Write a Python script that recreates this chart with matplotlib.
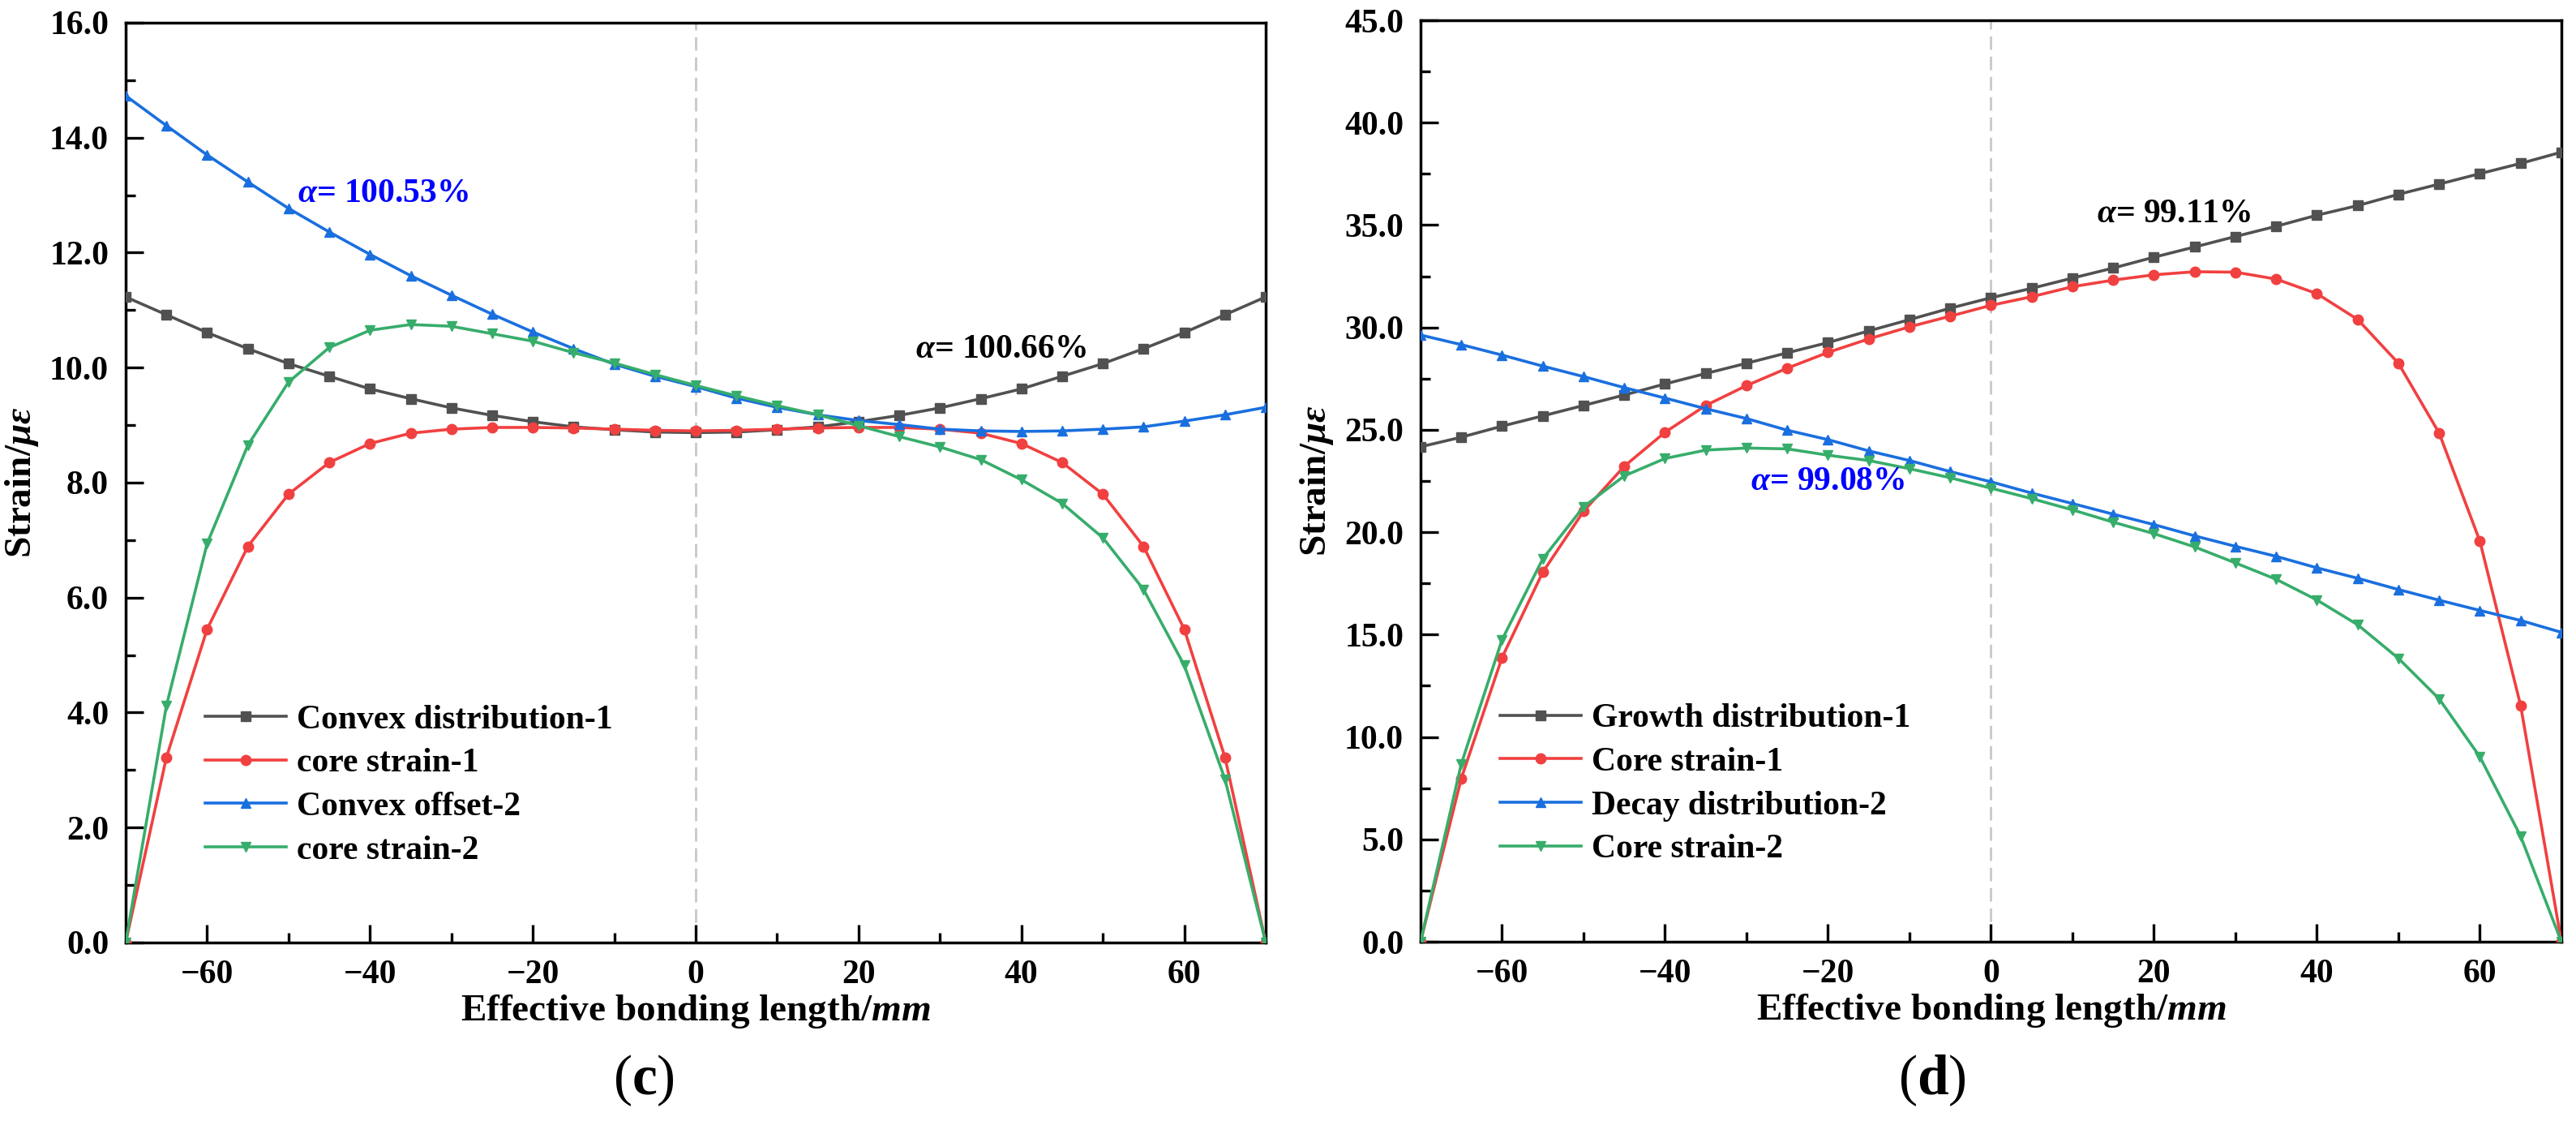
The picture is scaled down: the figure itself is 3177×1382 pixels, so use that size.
import matplotlib
matplotlib.use("Agg")
import matplotlib.pyplot as plt
import numpy as np

# bonding positions, mm
x_pos = list(range(-70, 75, 5))

# panel (c)
c_convex_1 = [11.23, 10.92, 10.61, 10.33, 10.07, 9.85, 9.63, 9.46, 9.30, 9.17, 9.06, 8.97,
              8.92, 8.88, 8.87, 8.88, 8.92, 8.97, 9.06, 9.17, 9.30, 9.46, 9.63, 9.85,
              10.07, 10.33, 10.61, 10.92, 11.23]
c_core_1 = [0.0, 3.22, 5.45, 6.89, 7.80, 8.35, 8.68, 8.86, 8.93, 8.96, 8.96, 8.95,
            8.93, 8.91, 8.90, 8.91, 8.93, 8.95, 8.96, 8.96, 8.93, 8.86, 8.68, 8.35,
            7.80, 6.89, 5.45, 3.22, 0.0]
c_offset_2 = [14.73, 14.21, 13.70, 13.23, 12.77, 12.36, 11.97, 11.60, 11.26, 10.93, 10.62, 10.33,
              10.06, 9.85, 9.67, 9.47, 9.31, 9.18, 9.08, 9.01, 8.93, 8.90, 8.89, 8.90,
              8.93, 8.97, 9.07, 9.18, 9.31]
c_core_2 = [0.0, 4.12, 6.94, 8.65, 9.75, 10.35, 10.65, 10.75, 10.72, 10.59, 10.46, 10.26,
            10.08, 9.88, 9.69, 9.51, 9.34, 9.18, 8.99, 8.80, 8.62, 8.40, 8.05, 7.64,
            7.04, 6.14, 4.82, 2.84, 0.0]

# panel (d)
d_growth_1 = [24.17, 24.64, 25.18, 25.68, 26.19, 26.70, 27.24, 27.75, 28.25, 28.76, 29.26, 29.83,
              30.38, 30.94, 31.45, 31.91, 32.41, 32.90, 33.43, 33.93, 34.44, 34.94, 35.48, 35.95,
              36.50, 37.00, 37.51, 38.01, 38.56]
d_core_1 = [0.0, 7.98, 13.88, 18.05, 21.02, 23.22, 24.88, 26.19, 27.16, 28.01, 28.78, 29.44,
            30.03, 30.55, 31.08, 31.50, 31.99, 32.31, 32.57, 32.72, 32.70, 32.36, 31.65, 30.39,
            28.25, 24.84, 19.56, 11.53, 0.0]
d_decay_2 = [29.63, 29.16, 28.65, 28.11, 27.60, 27.06, 26.55, 26.03, 25.55, 24.98, 24.52, 23.97,
             23.50, 22.96, 22.46, 21.91, 21.40, 20.88, 20.37, 19.82, 19.31, 18.82, 18.26, 17.75,
             17.20, 16.68, 16.18, 15.69, 15.11]
d_core_2 = [0.0, 8.69, 14.75, 18.70, 21.24, 22.75, 23.60, 24.01, 24.11, 24.07, 23.76, 23.50,
            23.10, 22.66, 22.15, 21.64, 21.09, 20.49, 19.93, 19.28, 18.50, 17.70, 16.69, 15.48,
            13.84, 11.86, 9.03, 5.15, 0.0]

labels_c = ["Convex distribution-1", "core strain-1", "Convex offset-2", "core strain-2"]
labels_d = ["Growth distribution-1", "Core strain-1", "Decay distribution-2", "Core strain-2"]

colors = ["#515151", "#F14040", "#1A6FDF", "#37AD6B"]
markers = ["s", "o", "^", "v"]

plt.rcParams["font.family"] = ["Liberation Serif", "DejaVu Serif"]
plt.rcParams["font.weight"] = "bold"
plt.rcParams["mathtext.fontset"] = "custom"
plt.rcParams["mathtext.rm"] = "Liberation Serif:bold"
plt.rcParams["mathtext.it"] = "Liberation Serif:italic:bold"
plt.rcParams["mathtext.bf"] = "Liberation Serif:bold"

fig = plt.figure(figsize=(31.77, 13.82), dpi=100)
ax1 = fig.add_axes([0.04879, 0.15919, 0.44256, 0.82055])
ax2 = fig.add_axes([0.55146, 0.15991, 0.44287, 0.82200])


def draw(ax, series, labels, ymax, ystep, notes):
    ax.axvline(0, color="#c8c8c8", ls=(0, (6, 3)), lw=2, zorder=1)
    for s, lab, c, m in zip(series, labels, colors, markers):
        ax.plot(x_pos, s, color=c, marker=m, ms=9, lw=2.6, label=lab, zorder=3)
    ax.set_xlim(-70, 70)
    ax.set_ylim(0, ymax)
    ax.set_xticks([-60, -40, -20, 0, 20, 40, 60])
    ax.set_xticks([-50, -30, -10, 10, 30, 50], minor=True)
    ax.set_yticks(np.arange(0, ymax + 0.01, ystep))
    ax.set_yticks(np.arange(ystep / 2, ymax, ystep), minor=True)
    ax.set_yticklabels(["%.1f" % v for v in np.arange(0, ymax + 0.01, ystep)])
    ax.tick_params(which="both", direction="in", top=False, right=False,
                   labelsize=30, width=2.4)
    ax.tick_params(which="major", length=16, pad=15)
    ax.tick_params(which="minor", length=8.5)
    for sp in ax.spines.values():
        sp.set_linewidth(2.5)
    ax.set_xlabel("Effective bonding length/$mm$", fontsize=34, fontweight="bold", labelpad=2)
    ax.set_ylabel("Strain/$\\mu\\varepsilon$", fontsize=34, fontweight="bold", labelpad=8)
    ax.legend(loc="center left", bbox_to_anchor=(0.07, 0.171), frameon=False,
              fontsize=30, handlelength=2.4, handletextpad=0.3, labelspacing=0.37,
              borderpad=0, borderaxespad=0, numpoints=1)
    for tx, ty, txt, col in notes:
        ax.text(tx, ty, txt, color=col, fontsize=30, fontweight="bold",
                ha="left", va="center", zorder=5)


draw(ax1, [c_convex_1, c_core_1, c_offset_2, c_core_2], labels_c, 16.0, 2.0,
     [(-48.9, 13.02, "$\\alpha$= 100.53%", "#0000ff"),
      (27.0, 10.31, "$\\alpha$= 100.66%", "#000000")])
draw(ax2, [d_growth_1, d_core_1, d_decay_2, d_core_2], labels_d, 45.0, 5.0,
     [(13.0, 35.54, "$\\alpha$= 99.11%", "#000000"),
      (-29.5, 22.46, "$\\alpha$= 99.08%", "#0000ff")])

fig.text(0.25, 0.036, "($\\mathbf{c}$)", fontsize=50, fontweight="normal",
         ha="center", va="center")
fig.text(0.75, 0.036, "($\\mathbf{d}$)", fontsize=50, fontweight="normal",
         ha="center", va="center")

fig.savefig("out.png", dpi=100)
